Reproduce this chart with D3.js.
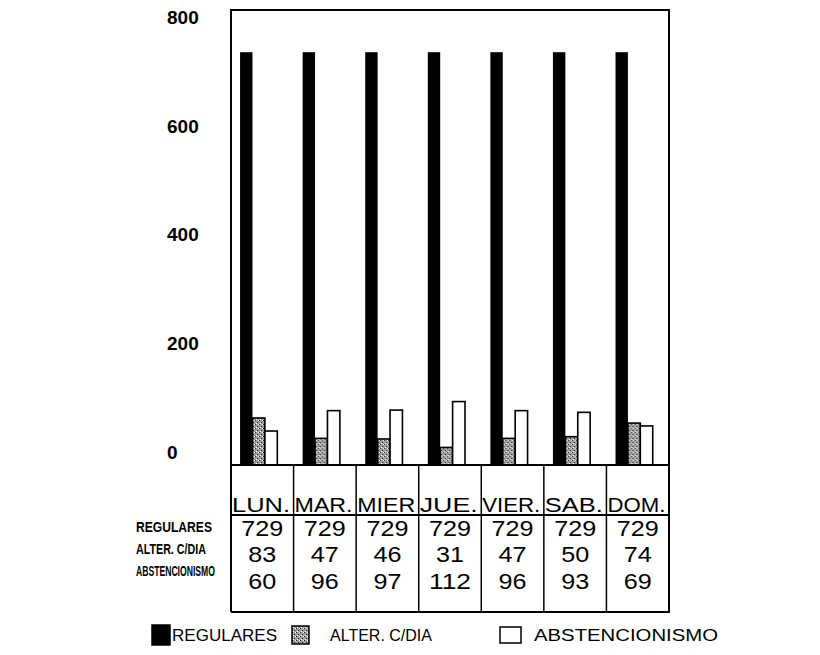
<!DOCTYPE html>
<html>
<head>
<meta charset="utf-8">
<script src="https://cdn.jsdelivr.net/npm/d3@7"></script>
<style>
  body { margin: 0; background: #fff; }
  svg { display: block; font-family: "Liberation Sans", Arial, sans-serif; }
</style>
</head>
<body>
<svg id="chart" width="820" height="655"></svg>
<script>
const categories = ["LUN.", "MAR.", "MIER", "JUE.", "VIER.", "SAB.", "DOM."];
const regulares = [729, 729, 729, 729, 729, 729, 729];
const alter = [83, 47, 46, 31, 47, 50, 74];
const abstencionismo = [60, 96, 97, 112, 96, 93, 69];
const seriesNames = ["REGULARES", "ALTER. C/DIA", "ABSTENCIONISMO"];
const yTicks = [0, 200, 400, 600, 800];

const series = [regulares, alter, abstencionismo];

const svg = d3.select("#chart");

// pattern for ALTER. C/DIA
const defs = svg.append("defs");
const pat = defs.append("pattern").attr("id", "speckle")
  .attr("patternUnits", "userSpaceOnUse").attr("width", 4).attr("height", 4);
pat.append("rect").attr("width", 4).attr("height", 4).attr("fill", "#a0a0a0");
pat.append("rect").attr("x", 0).attr("y", 0).attr("width", 1).attr("height", 1).attr("fill", "#222");
pat.append("rect").attr("x", 2).attr("y", 2).attr("width", 1).attr("height", 1).attr("fill", "#222");
pat.append("rect").attr("x", 3).attr("y", 0).attr("width", 1).attr("height", 1).attr("fill", "#fff");
pat.append("rect").attr("x", 1).attr("y", 3).attr("width", 1).attr("height", 1).attr("fill", "#fff");

const fills = ["#000", "url(#speckle)", "#fff"];

const pLeft = 231, pRight = 669, pTop = 10, pBase = 465, rowSep = 515, tableBottom = 612;

const x0 = d3.scaleBand().domain(categories).range([pLeft, pRight]).padding(0);
const bw = x0.bandwidth();
const x1 = d3.scaleBand().domain(d3.range(3)).range([bw * 0.145, bw * 0.74]).padding(0);
const y = d3.scaleLinear().domain([0, 800]).range([pBase, 12]);
const yLab = d3.scaleLinear().domain([0, 800]).range([452, 17]);

// bars
const groups = svg.append("g").selectAll("g").data(categories).join("g")
  .attr("transform", d => `translate(${x0(d)},0)`);
groups.selectAll("rect")
  .data((d, i) => series.map((s, k) => ({k, v: s[i]})))
  .join("rect")
  .attr("x", d => x1(d.k))
  .attr("width", x1.bandwidth())
  .attr("y", d => y(d.v))
  .attr("height", d => y(0) - y(d.v))
  .attr("fill", d => fills[d.k])
  .attr("stroke", "#000")
  .attr("stroke-width", d => d.k === 0 ? 0 : 1.6);

// y labels (left aligned, no tick marks)
svg.append("g").selectAll("text").data(yTicks).join("text")
  .attr("x", 167).attr("y", d => yLab(d))
  .attr("dy", "0.36em")
  .attr("font-size", 19).attr("font-weight", "bold")
  .text(d => d);

// frame and table lines
const lines = svg.append("g").attr("stroke", "#000").attr("stroke-width", 2).attr("fill", "none");
lines.append("path").attr("d", `M${pLeft},${tableBottom}V${pTop}H${pRight}V${tableBottom}H${pLeft}`);
lines.append("line").attr("x1", pLeft).attr("x2", pRight).attr("y1", pBase).attr("y2", pBase);
lines.append("line").attr("x1", pLeft).attr("x2", pRight).attr("y1", rowSep).attr("y2", rowSep);
lines.selectAll("line.v").data(categories.slice(1)).join("line").attr("class", "v")
  .attr("x1", d => x0(d)).attr("x2", d => x0(d)).attr("y1", pBase).attr("y2", tableBottom)
  .attr("stroke-width", 1.5);

// category labels
svg.append("g").selectAll("text").data(categories).join("text")
  .attr("x", d => x0(d) + 1).attr("y", 512)
  .attr("font-size", 21)
  .attr("textLength", 58).attr("lengthAdjust", "spacingAndGlyphs")
  .text(d => d);

// table values
const rowY = [528, 554, 581];
series.forEach((s, k) => {
  svg.append("g").selectAll("text").data(s).join("text")
    .attr("x", (d, i) => x0(categories[i]) + bw / 2)
    .attr("y", rowY[k]).attr("dy", "0.36em")
    .attr("text-anchor", "middle")
    .attr("font-size", 22)
    .attr("textLength", d => String(d).length * 14)
    .attr("lengthAdjust", "spacingAndGlyphs")
    .text(d => d);
});

// row labels (horizontally condensed via scale transform)
const rowLabelY = [527, 549, 571];
const rowLabelW = [76, 70, 79];
svg.append("g").selectAll("text").data(seriesNames).join("text")
  .attr("x", 0).attr("y", 0).attr("dy", "0.36em")
  .attr("font-size", 14).attr("font-weight", "bold")
  .text(d => d)
  .attr("transform", function(d, k) {
    const w = this.getComputedTextLength();
    return `translate(136,${rowLabelY[k]}) scale(${rowLabelW[k] / w},1)`;
  });

// legend
const legendItems = [
  {k: 0, sx: 152, sw: 18, sy: 625, sh: 20, tx: 172, tw: 105},
  {k: 1, sx: 292, sw: 17, sy: 626, sh: 18, tx: 330, tw: 102},
  {k: 2, sx: 500, sw: 21, sy: 627, sh: 16, tx: 534, tw: 184}
];
const lg = svg.append("g");
lg.selectAll("rect").data(legendItems).join("rect")
  .attr("x", d => d.sx).attr("y", d => d.sy).attr("width", d => d.sw).attr("height", d => d.sh)
  .attr("fill", d => fills[d.k]).attr("stroke", "#000").attr("stroke-width", 1.5);
lg.selectAll("text").data(legendItems).join("text")
  .attr("x", d => d.tx).attr("y", 635).attr("dy", "0.36em")
  .attr("font-size", 17)
  .attr("textLength", d => d.tw).attr("lengthAdjust", "spacingAndGlyphs")
  .text(d => seriesNames[d.k]);
</script>
</body>
</html>
